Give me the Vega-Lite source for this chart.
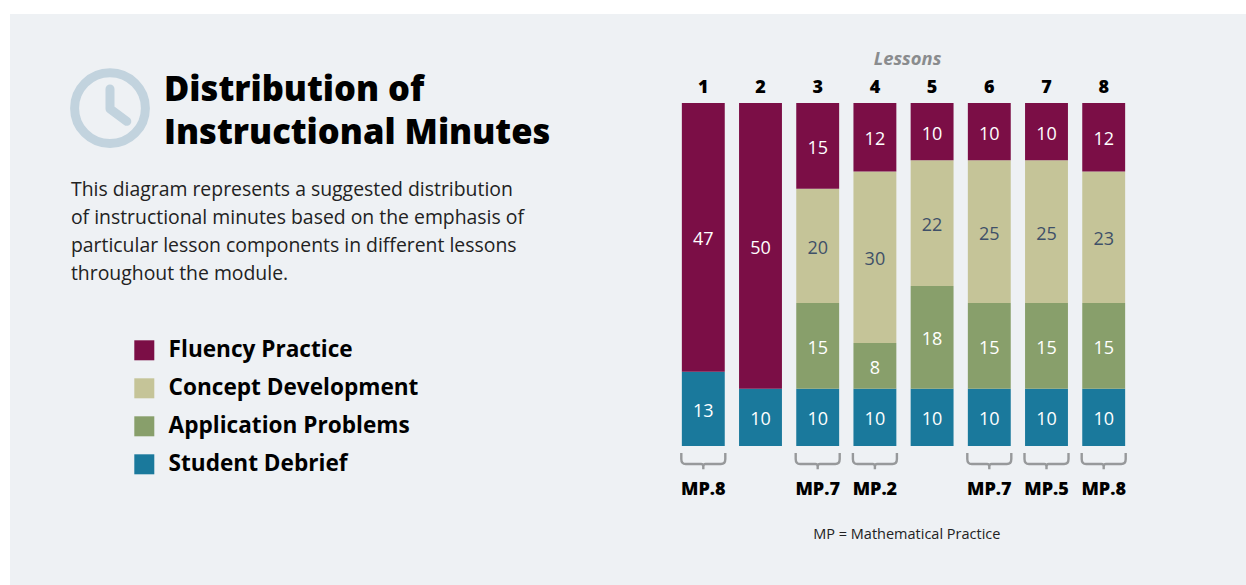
{
"$schema":"https://vega.github.io/schema/vega-lite/v6.json",
"autosize":"none","width":1236,"height":571,
"padding":{"left":10,"top":14,"right":0,"bottom":0},
"background":"#ffffff",
"config":{"view":{"fill":"#eef1f4","stroke":null}},
"title":{"text":["Distribution of","Instructional Minutes"],
"anchor":"start","frame":"group","orient":"top","offset":-137,"dx":154,"font":"Open Sans","fontWeight":800,"fontSize":34.5,"lineHeight":43,"color":"#000000"},
"datasets":{
"minutes":[
{"lesson":"1","component":"Student Debrief","rank":1,"minutes":13},{"lesson":"1","component":"Fluency Practice","rank":4,"minutes":47},
{"lesson":"2","component":"Student Debrief","rank":1,"minutes":10},{"lesson":"2","component":"Fluency Practice","rank":4,"minutes":50},
{"lesson":"3","component":"Student Debrief","rank":1,"minutes":10},{"lesson":"3","component":"Application Problems","rank":2,"minutes":15},{"lesson":"3","component":"Concept Development","rank":3,"minutes":20},{"lesson":"3","component":"Fluency Practice","rank":4,"minutes":15},
{"lesson":"4","component":"Student Debrief","rank":1,"minutes":10},{"lesson":"4","component":"Application Problems","rank":2,"minutes":8},{"lesson":"4","component":"Concept Development","rank":3,"minutes":30},{"lesson":"4","component":"Fluency Practice","rank":4,"minutes":12},
{"lesson":"5","component":"Student Debrief","rank":1,"minutes":10},{"lesson":"5","component":"Application Problems","rank":2,"minutes":18},{"lesson":"5","component":"Concept Development","rank":3,"minutes":22},{"lesson":"5","component":"Fluency Practice","rank":4,"minutes":10},
{"lesson":"6","component":"Student Debrief","rank":1,"minutes":10},{"lesson":"6","component":"Application Problems","rank":2,"minutes":15},{"lesson":"6","component":"Concept Development","rank":3,"minutes":25},{"lesson":"6","component":"Fluency Practice","rank":4,"minutes":10},
{"lesson":"7","component":"Student Debrief","rank":1,"minutes":10},{"lesson":"7","component":"Application Problems","rank":2,"minutes":15},{"lesson":"7","component":"Concept Development","rank":3,"minutes":25},{"lesson":"7","component":"Fluency Practice","rank":4,"minutes":10},
{"lesson":"8","component":"Student Debrief","rank":1,"minutes":10},{"lesson":"8","component":"Application Problems","rank":2,"minutes":15},{"lesson":"8","component":"Concept Development","rank":3,"minutes":23},{"lesson":"8","component":"Fluency Practice","rank":4,"minutes":12}
],
"practices":[{"lesson":"1","mp":"MP.8"},{"lesson":"3","mp":"MP.7"},{"lesson":"4","mp":"MP.2"},{"lesson":"6","mp":"MP.7"},{"lesson":"7","mp":"MP.5"},{"lesson":"8","mp":"MP.8"}]
},
"layer":[
{"data":{"name":"minutes"},"mark":{"type":"bar","stroke":null},
"encoding":{
"x":{"field":"lesson","type":"nominal","sort":null,"scale":{"type":"band","domain":["1","2","3","4","5","6","7","8"],"range":[664.7,1122.3],"paddingInner":0.25,"paddingOuter":0.125},
"axis":{"orient":"top","offset":-82,"domain":false,"ticks":false,"grid":false,"labelAngle":0,"labelPadding":0,"labelFont":"Open Sans","labelFontWeight":800,"labelFontSize":18,"labelColor":"#000000","title":"Lessons","titleX":897,"titleFont":"Open Sans","titleFontStyle":"italic","titleFontWeight":"bold","titleFontSize":18.4,"titleColor":"#8a8c8e","titlePadding":10}},
"y":{"field":"minutes","type":"quantitative","stack":"zero","scale":{"domain":[0,60],"range":[432,89],"nice":false,"zero":true},"axis":null},
"order":{"field":"rank","type":"ordinal"},
"color":{"field":"component","type":"nominal","scale":{"domain":["Fluency Practice","Concept Development","Application Problems","Student Debrief"],"range":["#7b0e46","#c5c498","#889f6b","#1a799c"]},
"legend":{"orient":"none","legendX":123,"legendY":325,"title":null,"padding":0,"symbolType":"square","symbolSize":400,"symbolStrokeWidth":0,"symbolOpacity":1,"rowPadding":15,"labelOffset":13,"labelFont":"Open Sans","labelFontWeight":"bold","labelFontSize":22.6,"labelColor":"#000000","labelLimit":400}}
}},
{"data":{"name":"minutes"},"mark":{"type":"text","font":"Open Sans","fontSize":18,"baseline":"middle","dy":3},
"encoding":{
"x":{"field":"lesson","type":"nominal","sort":null},
"y":{"field":"minutes","type":"quantitative","stack":"zero","bandPosition":0.5},
"order":{"field":"rank","type":"ordinal"},
"text":{"field":"minutes","type":"quantitative"},
"color":{"condition":{"test":"datum.component === 'Concept Development'","value":"#3f5068"},"value":"#ffffff"}
}},
{"data":{"name":"practices"},"mark":{"type":"point","shape":"M-1,-.32L-1,-.05Q-1,.18-.8,.18L-.1,.18Q0,.18 0,.3L0,.42M0,.3Q0,.18 .1,.18L.8,.18Q1,.18 1,-.05L1,-.32","filled":false,"stroke":"#97999b","strokeWidth":2.4,"size":1936,"opacity":1},
"encoding":{"x":{"field":"lesson","type":"nominal","sort":null},"y":{"datum":-2.45}}},
{"data":{"name":"practices"},"mark":{"type":"text","font":"Open Sans","fontWeight":800,"fontSize":18,"color":"#000000","baseline":"middle"},
"encoding":{"x":{"field":"lesson","type":"nominal","sort":null},"y":{"datum":-7.7},"text":{"field":"mp"}}},
{"data":{"values":[{"lesson":"5","note":"MP = Mathematical Practice"}]},"mark":{"type":"text","font":"Open Sans","fontSize":14.5,"color":"#222222","baseline":"middle"},
"encoding":{"x":{"field":"lesson","type":"nominal","sort":null,"bandPosition":-0.09},"y":{"datum":-15.55},"text":{"field":"note"}}},
{"data":{"values":[{"lesson":"1","note":"This diagram represents a suggested distribution\nof instructional minutes based on the emphasis of\nparticular lesson components in different lessons\nthroughout the module."}]},"mark":{"type":"text","font":"Open Sans","fontSize":19.4,"color":"#222222","align":"left","baseline":"top","lineBreak":"\n","lineHeight":28},
"encoding":{"x":{"field":"lesson","type":"nominal","sort":null,"bandPosition":-14.24},"y":{"datum":46.4},"text":{"field":"note"}}},
{"data":{"values":[{"lesson":"1","icon":"clock"}]},"mark":{"type":"point","shape":"M.885,0A.885,.885 0 1,1 -.885,0A.885,.885 0 1,1 .885,0Z M0,-.48L0,.02L.42,.33","filled":false,"stroke":"#c2d3de","strokeWidth":9,"strokeCap":"round","strokeJoin":"round","size":6400,"opacity":1},
"encoding":{"x":{"field":"lesson","type":"nominal","sort":null,"bandPosition":-13.33},"y":{"datum":59.1}}}
]
}
